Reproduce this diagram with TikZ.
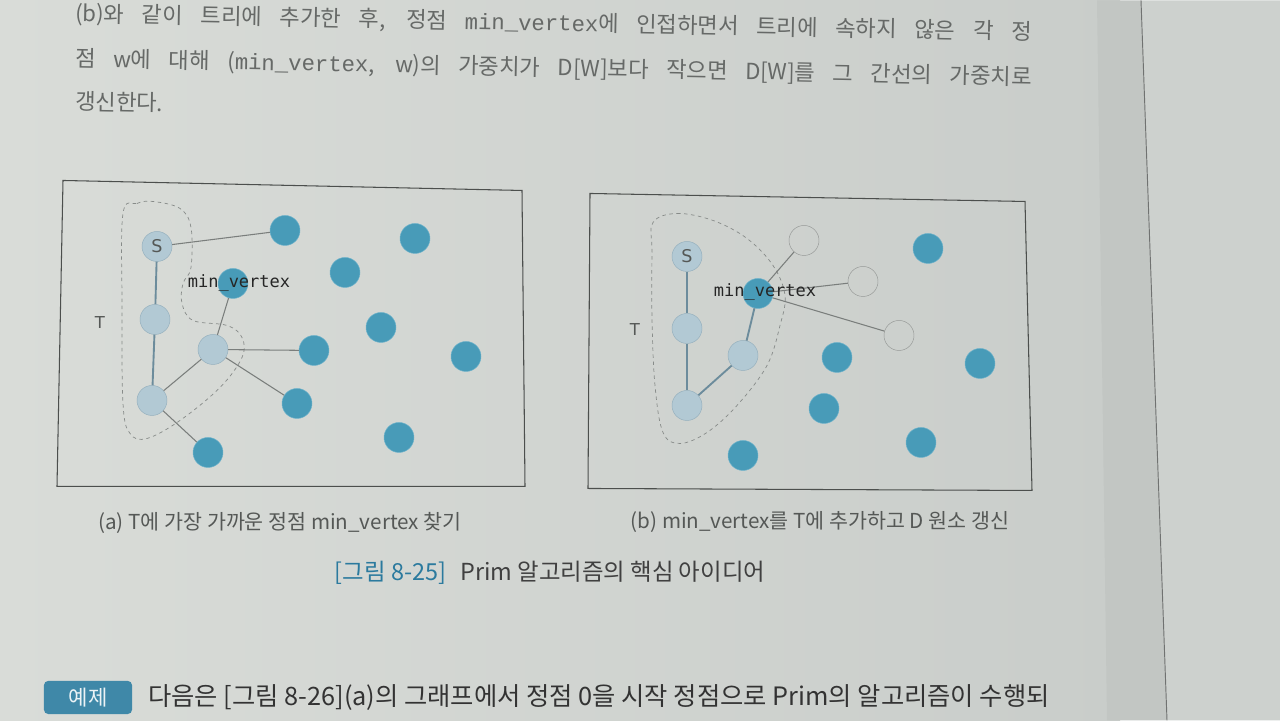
\documentclass[tikz,border=0pt]{standalone}
\usepackage{fontspec}
\setmainfont{Noto Sans CJK KR}
\newfontfamily\diagfont{DejaVu Sans}
\newfontfamily\codefont{DejaVu Sans Mono}
\newfontfamily\bodymono{Liberation Mono}
\usetikzlibrary{positioning}

\definecolor{pageA}{HTML}{D9DCD8}
\definecolor{pageB}{HTML}{C9CDCA}
\definecolor{bandgray}{HTML}{C2C6C3}
\definecolor{nextpage}{HTML}{CDD1CE}
\definecolor{treefill}{HTML}{B2C9D4}
\definecolor{treeline}{HTML}{94AFBD}
\definecolor{outfill}{HTML}{489BB8}
\definecolor{outline}{HTML}{6FB3CB}
\definecolor{treeedge}{HTML}{6C8C9C}
\definecolor{linkgray}{HTML}{7A7E7C}
\definecolor{framegray}{HTML}{4C4F4D}
\definecolor{textgray}{HTML}{555856}
\definecolor{bodygray}{HTML}{666967}
\definecolor{figblue}{HTML}{2B7A9E}
\definecolor{tabblue}{HTML}{3F88A8}

\newcommand\fsz[1]{\fontsize{#1}{#1}\selectfont}

\begin{document}
\begin{tikzpicture}[x=0.03cm, y=-0.03cm,
    tnode/.style={circle, draw=treeline, fill=treefill, minimum size=0.9cm, inner sep=0pt,
                  font=\diagfont\fsz{15pt}, text=textgray},
    vnode/.style={circle, draw=outline, fill=outfill, minimum size=0.9cm, inner sep=0pt},
    wnode/.style={circle, draw=linkgray!80, minimum size=0.9cm, inner sep=0pt},
    treelink/.style={draw=treeedge, line width=1.6pt},
    link/.style={draw=linkgray, line width=0.9pt},
    hull/.style={draw=linkgray!90, dashed, line width=0.6pt},
    frame/.style={draw=framegray, line width=0.9pt},
    mvlbl/.style={font=\codefont\fsz{14.5pt}, text=black!85},
    tlbl/.style={font=\diagfont\fsz{14pt}, text=textgray},
    capt/.style={font=\fsz{17.6pt}, text=textgray},
    bodyline/.style={anchor=west, rotate=-1.1, inner sep=0pt, font=\fsz{19pt}, text=bodygray}]

    % Page
    \shade[left color=pageA, right color=pageB] (0,0) rectangle (1120,720);
    \fill[bandgray] (1097,0) -- (1141,0) -- (1167,720) -- (1107,720) -- cycle;
    \fill[nextpage] (1141,0) -- (1280,0) -- (1280,720) -- (1167,720) -- cycle;
    \draw[framegray!80, line width=0.8pt] (1141,0) -- (1167,720);
    \useasboundingbox (0,0) rectangle (1280,720);

    % Body text
    \node (line1) [bodyline] at (75,14) {\makebox[28.7cm][s]{(b)와 같이 트리에 추가한 후, 정점 {\bodymono min\_vertex}에 인접하면서 트리에 속하지 않은 각 정}};
    \node (line2) [bodyline] at (75,59) {\makebox[28.7cm][s]{점 w에 대해 ({\bodymono min\_vertex}, w)의 가중치가 D[W]보다 작으면 D[W]를 그 간선의 가중치로}};
    \node (line3) [bodyline] at (75,101) {갱신한다.};

    % Frames
    \draw[frame] (63,180) -- (522,190) -- (525,486) -- (57,486) -- cycle;
    \draw[frame] (590,193) -- (1025,201) -- (1032,490) -- (588,488) -- cycle;

    % (a) tree boundary
    \draw[hull] plot[smooth cycle, tension=0.6] coordinates {(123,213) (137,203) (153,201) (180,208)
        (191,227) (191,267) (183,283) (182,303) (193,320) (227,325) (242,337) (242,357)
        (220,387) (180,420) (147,438) (130,433) (123,403) (122,303)};

    % (a) Nodes
    \node (aS) [tnode] at (157,246) {S};
    \node (aT2) [tnode] at (155,319) {};
    \node (aT3) [tnode] at (152,400) {};
    \node (aT4) [tnode] at (213,349) {};
    \node (aMin) [vnode] at (233,283) {};
    \node (a1) [vnode] at (285,230) {};
    \node (a2) [vnode] at (415,238) {};
    \node (a3) [vnode] at (345,272) {};
    \node (a4) [vnode] at (381,327) {};
    \node (a5) [vnode] at (314,350) {};
    \node (a6) [vnode] at (466,356) {};
    \node (a7) [vnode] at (297,403) {};
    \node (a8) [vnode] at (399,437) {};
    \node (a9) [vnode] at (208,452) {};

    % (a) Edges
    \draw[treelink] (aS) -- (aT2);
    \draw[treelink] (aT2) -- (aT3);
    \draw[link] (aS) -- (a1);
    \draw[link] (aT3) -- (aT4);
    \draw[link] (aT4) -- (aMin);
    \draw[link] (aT4) -- (a5);
    \draw[link] (aT4) -- (a7);
    \draw[link] (aT3) -- (a9);

    \node (aT) [tlbl] at (100,322) {T};
    \node (aMinLbl) [mvlbl] at (239,283) {min\_vertex};

    % (b) tree boundary
    \draw[hull] plot[smooth cycle, tension=0.6] coordinates {(653,222) (677,213) (713,220) (747,238)
        (773,265) (785,295) (780,325) (767,365) (737,405) (707,432) (680,443)
        (663,432) (655,385) (652,318) (652,252)};

    % (b) Nodes
    \node (bS) [tnode] at (687,256) {S};
    \node (bT2) [tnode] at (687,328) {};
    \node (bT3) [tnode] at (687,405) {};
    \node (bT4) [tnode] at (743,355) {};
    \node (bMin) [vnode] at (758,293) {};
    \node (bW1) [wnode] at (804,240) {};
    \node (bW2) [wnode] at (863,281) {};
    \node (bW3) [wnode] at (899,335) {};
    \node (b1) [vnode] at (928,248) {};
    \node (b2) [vnode] at (837,357) {};
    \node (b3) [vnode] at (980,363) {};
    \node (b4) [vnode] at (824,408) {};
    \node (b5) [vnode] at (921,442) {};
    \node (b6) [vnode] at (743,455) {};

    % (b) Edges
    \draw[treelink] (bS) -- (bT2);
    \draw[treelink] (bT2) -- (bT3);
    \draw[treelink] (bT3) -- (bT4);
    \draw[treelink] (bT4) -- (bMin);
    \draw[link] (bMin) -- (bW1);
    \draw[link] (bMin) -- (bW2);
    \draw[link] (bMin) -- (bW3);

    \node (bT) [tlbl] at (635,329) {T};
    \node (bMinLbl) [mvlbl] at (765,292) {min\_vertex};

    % Captions
    \node (captA) [capt] at (280,522) {(a) T에 가장 가까운 정점 min\_vertex 찾기};
    \node (captB) [capt] at (820,522) {(b) min\_vertex를 T에 추가하고 D 원소 갱신};
    \node (title) [font=\fsz{20pt}, text=black!75] at (550,572)
        {\textcolor{figblue}{[그림 8-25]}\hspace{0.6em}Prim 알고리즘의 핵심 아이디어};

    % Example line
    \node (tab) [fill=tabblue, rounded corners=4pt, minimum width=2.65cm, minimum height=1cm,
        font=\fsz{18pt}, text=white!90!tabblue] at (88,697) {예제};
    \node (example) [anchor=west, inner sep=0pt, font=\fsz{21.6pt}, text=black!80] at (148,697)
        {다음은 [그림 8-26](a)의 그래프에서 정점 0을 시작 정점으로 Prim의 알고리즘이 수행되};
\end{tikzpicture}
\end{document}
